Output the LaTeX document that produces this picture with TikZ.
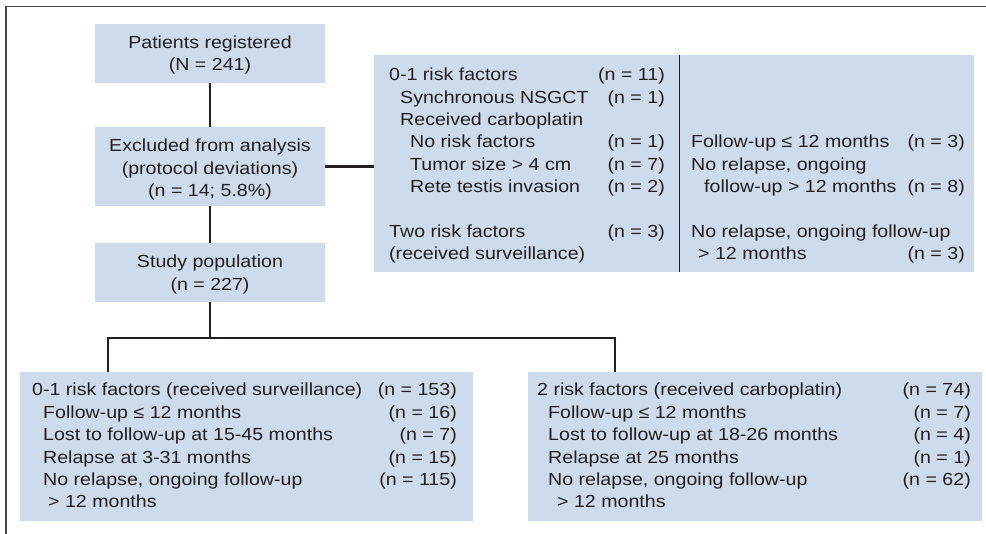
\documentclass[tikz,border=0pt]{standalone}
\usepackage{fontspec}
\setmainfont[FakeStretch=1.12]{Liberation Sans}
\definecolor{boxblue}{RGB}{205,219,236}
\definecolor{ink}{RGB}{35,31,32}
\newcommand\txtL[4]{\node[txt,anchor=base west] (#1) at (#2,#3) {#4};}
\newcommand\txtR[4]{\node[txt,anchor=base east] (#1) at (#2,#3) {#4};}
\newcommand\txtC[4]{\node[txt,anchor=base] (#1) at (#2,#3) {#4};}
\begin{document}
\begin{tikzpicture}[x=1pt,y=-1pt,
  box/.style={fill=boxblue, draw=none, inner sep=0pt, anchor=north west},
  txt/.style={inner sep=0pt, text=ink, font=\fontsize{17.5}{22.4}\selectfont},
  conn/.style={draw=ink, line width=2.4pt},
  divider/.style={draw=ink, line width=1pt},
  frameline/.style={draw=black!72, line width=1.5pt}]
\useasboundingbox (0,0) rectangle (986,534);
\draw[frameline] (6,534) -- (6,6.5) -- (986,6.5);

% boxes
\node[box, minimum width=230pt, minimum height=58.5pt] (reg) at (95,24) {};
\node[box, minimum width=230pt, minimum height=78.5pt] (excl) at (95,127) {};
\node[box, minimum width=230pt, minimum height=58.5pt] (study) at (95,243) {};
\node[box, minimum width=600pt, minimum height=216.5pt] (side) at (374,55) {};
\node[box, minimum width=453pt, minimum height=149pt] (surv) at (20,372) {};
\node[box, minimum width=454pt, minimum height=149pt] (carb) at (528,372) {};

% connectors
\coordinate (bl) at (108,338);
\coordinate (brr) at (615,338);
\coordinate (dv) at (679.5,0);
\draw[conn] (reg.south) -- (excl.north);
\draw[conn] (excl.south) -- (study.north);
\draw[conn] (excl.east) -- (excl.east -| side.west);
\draw[conn] (study.south) -- (study.south |- bl);
\draw[conn] (bl |- surv.north) -- (bl) -- (brr) -- (brr |- carb.north);
\draw[divider] (side.north -| dv) -- (side.south -| dv);

% left column texts
\txtC{r1}{210}{48.3}{Patients registered}
\txtC{r2}{210}{70.7}{(N = 241)}
\txtC{e1}{210}{151.7}{Excluded from analysis}
\txtC{e2}{210}{174.1}{(protocol deviations)}
\txtC{e3}{210}{196.5}{(n = 14; 5.8\%)}
\txtC{s1}{210}{267.7}{Study population}
\txtC{s2}{210}{290.1}{(n = 227)}

% side box, left part
\txtL{a0}{389}{80.7}{0-1 risk factors}
\txtR{a0n}{665}{80.7}{(n = 11)}
\txtL{a1}{400}{103.05}{Synchronous NSGCT}
\txtR{a1n}{665}{103.05}{(n = 1)}
\txtL{a2}{400}{125.4}{Received carboplatin}
\txtL{a3}{410}{147.75}{No risk factors}
\txtR{a3n}{665}{147.75}{(n = 1)}
\txtL{a4}{410}{170.1}{Tumor size > 4 cm}
\txtR{a4n}{665}{170.1}{(n = 7)}
\txtL{a5}{410}{192.45}{Rete testis invasion}
\txtR{a5n}{665}{192.45}{(n = 2)}
\txtL{a7}{389}{237.15}{Two risk factors}
\txtR{a7n}{665}{237.15}{(n = 3)}
\txtL{a8}{389}{259.5}{(received surveillance)}

% side box, right part
\txtL{b3}{691}{147.75}{Follow-up ≤ 12 months}
\txtR{b3n}{965}{147.75}{(n = 3)}
\txtL{b4}{691}{170.1}{No relapse, ongoing}
\txtL{b5}{704}{192.45}{follow-up > 12 months}
\txtR{b5n}{965}{192.45}{(n = 8)}
\txtL{b7}{691}{237.15}{No relapse, ongoing follow-up}
\txtL{b8}{698}{259.5}{> 12 months}
\txtR{b8n}{965}{259.5}{(n = 3)}

% bottom left box
\txtL{c0}{32}{396}{0-1 risk factors (received surveillance)}
\txtR{c0n}{457}{396}{(n = 153)}
\txtL{c1}{43}{418.4}{Follow-up ≤ 12 months}
\txtR{c1n}{457}{418.4}{(n = 16)}
\txtL{c2}{43}{440.8}{Lost to follow-up at 15-45 months}
\txtR{c2n}{457}{440.8}{(n = 7)}
\txtL{c3}{43}{463.2}{Relapse at 3-31 months}
\txtR{c3n}{457}{463.2}{(n = 15)}
\txtL{c4}{43}{485.6}{No relapse, ongoing follow-up}
\txtR{c4n}{457}{485.6}{(n = 115)}
\txtL{c5}{48}{508}{> 12 months}

% bottom right box
\txtL{d0}{537}{396}{2 risk factors (received carboplatin)}
\txtR{d0n}{971}{396}{(n = 74)}
\txtL{d1}{548}{418.4}{Follow-up ≤ 12 months}
\txtR{d1n}{971}{418.4}{(n = 7)}
\txtL{d2}{548}{440.8}{Lost to follow-up at 18-26 months}
\txtR{d2n}{971}{440.8}{(n = 4)}
\txtL{d3}{548}{463.2}{Relapse at 25 months}
\txtR{d3n}{971}{463.2}{(n = 1)}
\txtL{d4}{548}{485.6}{No relapse, ongoing follow-up}
\txtR{d4n}{971}{485.6}{(n = 62)}
\txtL{d5}{557}{508}{> 12 months}
\end{tikzpicture}
\end{document}
